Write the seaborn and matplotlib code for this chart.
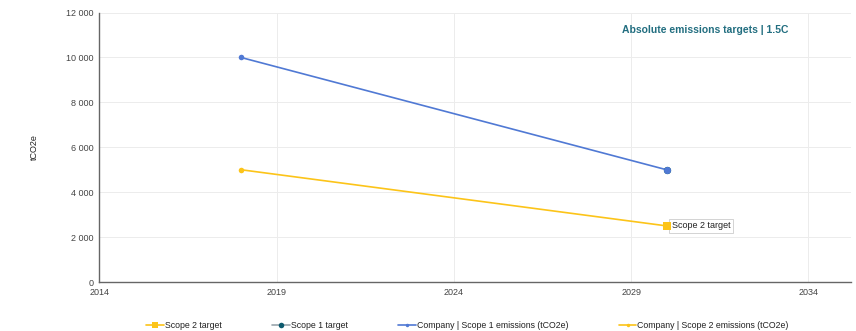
import matplotlib
matplotlib.use("Agg")
import matplotlib.pyplot as plt
from matplotlib.lines import Line2D
from matplotlib.ticker import FuncFormatter, MultipleLocator
import pandas as pd
import seaborn as sns

# ─── Data ───────────────────────────────────────────────────────────────────
years = [2018, 2030]
scope1_emissions = [10000, 5000]
scope2_emissions = [5000, 2500]
target_years = [2030]
scope1_target = [5000]
scope2_target = [2500]

# ─── Style ──────────────────────────────────────────────────────────────────
BLUE = "#5079d4"
YELLOW = "#fcc419"
TEAL = "#0d5a6e"
TITLE = "#226e80"
TEXT = "#444444"

sns.set_theme(style="white")
plt.rcParams["font.family"] = ["Liberation Sans", "DejaVu Sans"]

fig, ax = plt.subplots(figsize=(8.56, 3.31), dpi=100)
fig.subplots_adjust(left=0.116, right=0.994, top=0.962, bottom=0.148)

emis = pd.DataFrame({
    "year": years * 2,
    "value": scope1_emissions + scope2_emissions,
    "series": ["Company | Scope 1 emissions (tCO2e)"] * 2 + ["Company | Scope 2 emissions (tCO2e)"] * 2,
})
sns.lineplot(data=emis, x="year", y="value", hue="series",
             palette=[BLUE, YELLOW], marker="o", markersize=4, markeredgewidth=0,
             linewidth=1.2, legend=False, ax=ax)

sns.scatterplot(x=target_years, y=scope1_target, color=TEAL, s=28, linewidth=0, ax=ax, zorder=4)
sns.scatterplot(x=target_years, y=scope1_target, color=BLUE, s=26, linewidth=0, ax=ax, zorder=5)
sns.scatterplot(x=target_years, y=scope2_target, color=YELLOW, marker="s", s=26, linewidth=0, ax=ax, zorder=5)

ax.annotate("Scope 2 target", (target_years[0], scope2_target[0]), xytext=(4, 0),
            textcoords="offset points", va="center", ha="left", fontsize=6.5, color="#222222",
            bbox=dict(boxstyle="square,pad=0.3", fc="white", ec="#cccccc", lw=0.6))

ax.set_xlim(2014, 2035.2)
ax.set_ylim(0, 12000)
ax.set_xticks([2014, 2019, 2024, 2029, 2034])
ax.yaxis.set_major_locator(MultipleLocator(2000))
ax.yaxis.set_major_formatter(FuncFormatter(lambda v, _: f"{int(v):,}".replace(",", " ")))
ax.tick_params(axis="both", labelsize=6.5, colors=TEXT, length=0, pad=4)
ax.grid(True, color="#ececec", linewidth=0.7)
ax.set_axisbelow(True)

for side in ["top", "right"]:
    ax.spines[side].set_visible(False)
ax.spines["left"].set_color("#666666")
ax.spines["bottom"].set_color("#666666")
ax.spines["left"].set_linewidth(1.0)
ax.spines["bottom"].set_linewidth(1.0)

ax.set_xlabel("")
ax.set_ylabel("tCO2e", fontsize=6.5, color="#222222", labelpad=20)

ax.text(0.917, 0.955, "Absolute emissions targets | 1.5C", transform=ax.transAxes,
        ha="right", va="top", fontsize=7.5, fontweight="bold", color=TITLE)

handles = [
    Line2D([0], [0], color=YELLOW, marker="s", markersize=4, lw=1.2, markeredgewidth=0),
    Line2D([0], [0], color="#9aa5ad", marker="o", markersize=4, lw=1.2,
           markerfacecolor=TEAL, markeredgewidth=0),
    Line2D([0], [0], color=BLUE, marker="o", markersize=2.5, lw=1.2, markeredgewidth=0),
    Line2D([0], [0], color=YELLOW, marker="o", markersize=2.5, lw=1.2, markeredgewidth=0),
]
labels = ["Scope 2 target", "Scope 1 target",
          "Company | Scope 1 emissions (tCO2e)", "Company | Scope 2 emissions (tCO2e)"]
fig.legend(handles, labels, loc="lower center", bbox_to_anchor=(0.546, -0.02), ncol=4,
           frameon=False, fontsize=6.3, handlelength=2.0, handletextpad=0.1,
           columnspacing=5.8, labelcolor="#222222")

fig.savefig("out.png", dpi=100)
